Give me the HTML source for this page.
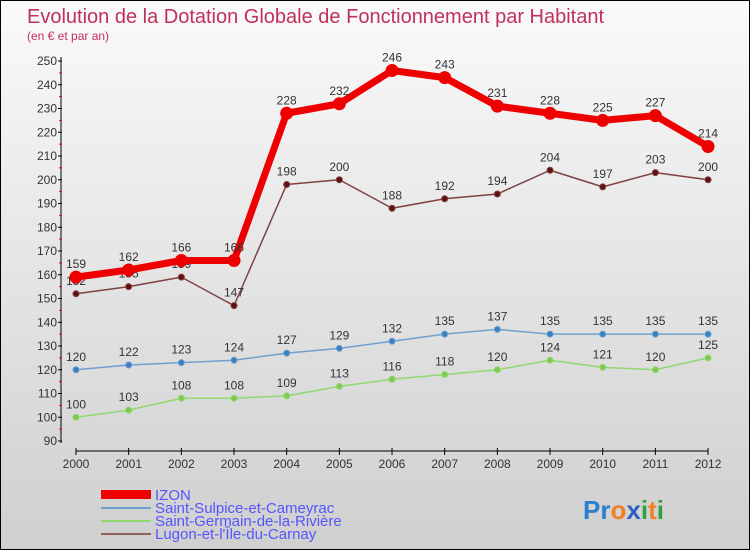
<!DOCTYPE html>
<html><head><meta charset="utf-8"><style>
body{margin:0}
#c{width:748px;height:548px;border:1px solid #000;background:linear-gradient(#fafafa,#cfcfcf);position:relative;overflow:hidden;font-family:"Liberation Sans",sans-serif}
</style></head><body>
<div id="c">
<svg id="s" width="748" height="548">
<text x="26" y="22" font-size="20" fill="#c0305a">Evolution de la Dotation Globale de Fonctionnement par Habitant</text>
<text x="26" y="39" font-size="12" fill="#c0305a">(en € et par an)</text>
<g id="axes"></g><g id="plot"></g>
<g font-size="15" fill="#5555ff">
<rect x="100" y="489" width="50" height="9" fill="#e00"/>
<text x="154" y="499">IZON</text>
<rect x="100" y="506" width="50" height="2" fill="#6fa0d0"/>
<text x="154" y="512">Saint-Sulpice-et-Cameyrac</text>
<rect x="100" y="519" width="50" height="2" fill="#90d870"/>
<text x="154" y="525">Saint-Germain-de-la-Rivière</text>
<rect x="100" y="532" width="50" height="2" fill="#906060"/>
<text x="154" y="538">Lugon-et-l'Île-du-Carnay</text>
</g>
<text x="582" y="518" font-size="26" font-weight="bold"><tspan fill="#2a7fd0">Pr</tspan><tspan fill="#f08020">o</tspan><tspan fill="#2a60c0">x</tspan><tspan fill="#30a040">i</tspan><tspan fill="#f08020">t</tspan><tspan fill="#30a040">i</tspan></text>
</svg></div>
<script>
const years=[2000,2001,2002,2003,2004,2005,2006,2007,2008,2009,2010,2011,2012];
const izon=[159,162,166,166,228,232,246,243,231,228,225,227,214];
const sulpice=[120,122,123,124,127,129,132,135,137,135,135,135,135];
const germain=[100,103,108,108,109,113,116,118,120,124,121,120,125];
const lugon=[152,155,159,147,198,200,188,192,194,204,197,203,200];
const yTicks=[90,100,110,120,130,140,150,160,170,180,190,200,210,220,230,240,250];
const NS="http://www.w3.org/2000/svg";
const X=i=>75+i*52.67, Y=v=>440-(v-90)*(380/160);
function mk(t,a,p,name){const e=document.createElementNS(NS,t);for(const k in a)e.setAttribute(k,a[k]);


p.appendChild(e);return e;}
const ax=document.getElementById('axes'),pl=document.getElementById('plot');
mk('line',{x1:60,y1:56,x2:60,y2:442,stroke:'#000'},ax,'y-axis');
mk('line',{x1:75,y1:450,x2:707,y2:450,stroke:'#000'},ax,'x-axis');
yTicks.forEach(v=>{mk('line',{x1:57,x2:61,y1:Y(v),y2:Y(v),stroke:'#000'},ax,'y-tick');
if(v<250)mk('line',{x1:58,x2:61,y1:Y(v+5),y2:Y(v+5),stroke:'#e00'},ax,'y-minor-tick');
const t=mk('text',{x:56,y:Y(v)+4,'text-anchor':'end','font-size':12,fill:'#333'},ax,'y-tick-label');t.textContent=v;});
years.forEach((y,i)=>{mk('line',{x1:X(i),x2:X(i),y1:447,y2:454,stroke:'#000'},ax,'x-tick');
const t=mk('text',{x:X(i),y:467,'text-anchor':'middle','font-size':12,fill:'#333'},ax,'x-tick-label');t.textContent=y;});
function series(d,col,w,r,fill,name){
mk('polyline',{points:d.map((v,i)=>X(i)+','+Y(v)).join(' '),fill:'none',stroke:col,'stroke-width':w,'stroke-linejoin':'round'},pl,name+'-line');
d.forEach((v,i)=>{mk('circle',{cx:X(i),cy:Y(v),r:r,fill:fill,stroke:col,'stroke-width':1},pl,name+'-point');
const t=mk('text',{x:X(i),y:Y(v)-9,'text-anchor':'middle','font-size':12,fill:'#333'},pl,name+'-value');t.textContent=v;});}
series(germain,'#90d870',1.5,3,'#80c850','saint-germain');
series(sulpice,'#6fa0d0',1.5,3,'#3a80c0','saint-sulpice');
series(lugon,'#804040',1.5,3,'#601010','lugon');
series(izon,'#ee0000',7,6,'#ee0000','izon');
</script>
</body></html>
